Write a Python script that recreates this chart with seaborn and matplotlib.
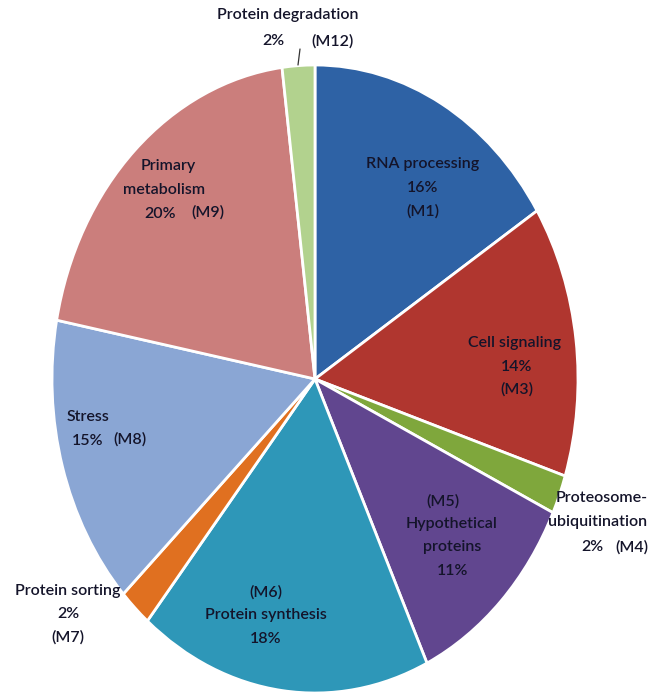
"""Pie chart of functional categories (M modules)."""

import matplotlib
matplotlib.use("Agg")
import matplotlib.pyplot as plt
import seaborn as sns

# data, clockwise from the top
categories = ['RNA processing', 'Cell signaling', 'Proteosome-ubiquitination',
              'Hypothetical proteins', 'Protein synthesis', 'Protein sorting',
              'Stress', 'Primary metabolism', 'Protein degradation']
modules = ['M1', 'M3', 'M4', 'M5', 'M6', 'M7', 'M8', 'M9', 'M12']
percent = [16, 14, 2, 11, 18, 2, 15, 20, 2]

colors = ['#2E62A5', '#B0362F', '#7FA73C', '#61468F', '#2E97B8',
          '#E07020', '#8AA6D4', '#CB7E7C', '#B2D28E']

sns.set_theme(style='white')
plt.rcParams['font.family'] = ['Lato', 'DejaVu Sans']

W, H = 664, 695
CX, CY, RX, RY = 315, 379, 263, 314   # pie centre and radii in pixels

fig = plt.figure(figsize=(W / 100, H / 100), dpi=100)
ax = fig.add_axes([0, 0, 1, 1])

ax.pie(percent, colors=colors, startangle=90, counterclock=False,
       wedgeprops=dict(edgecolor='white', linewidth=2))
ax.set_aspect('auto')
ax.set_xlim(-CX / RX, (W - CX) / RX)
ax.set_ylim((CY - H) / RY, CY / RY)
ax.axis('off')


def px(x, y):
    """pixel position -> data position"""
    return (x - CX) / RX, (CY - y) / RY


txt = dict(color='#14142A', fontsize=11.5, fontweight='semibold',
           ha='center', va='center')

# label text blocks, one line per entry: (x px, y px, text)
labels = [
    (288, 15, 'Protein degradation'), (273, 41, '2%'), (332, 41, '(M12)'),
    (423, 164, 'RNA processing'), (423, 188, '16%'), (423, 211, '(M1)'),
    (168, 166, 'Primary'), (164, 190, 'metabolism'),
    (160, 214, '20%'), (208, 212, '(M9)'),
    (515, 343, 'Cell signaling'), (517, 367, '14%'), (517, 389, '(M3)'),
    (88, 417, 'Stress'), (88, 441, '15%'), (130, 439, '(M8)'),
    (602, 498, 'Proteosome-'), (598, 522, 'ubiquitination'),
    (592, 547, '2%'), (632, 547, '(M4)'),
    (443, 501, '(M5)'), (452, 524, 'Hypothetical'), (452, 547, 'proteins'),
    (453, 571, '11%'),
    (68, 591, 'Protein sorting'), (68, 614, '2%'), (68, 637, '(M7)'),
    (266, 592, '(M6)'), (266, 615, 'Protein synthesis'), (266, 639, '18%'),
]
for x, y, s in labels:
    ax.text(*px(x, y), s, **txt)

# leader line for the small top slice
(x0, y0), (x1, y1) = px(300, 49), px(298, 65)
ax.plot([x0, x1], [y0, y1], color='#333333', lw=0.9)

fig.savefig('out.png', dpi=100, facecolor='white')
